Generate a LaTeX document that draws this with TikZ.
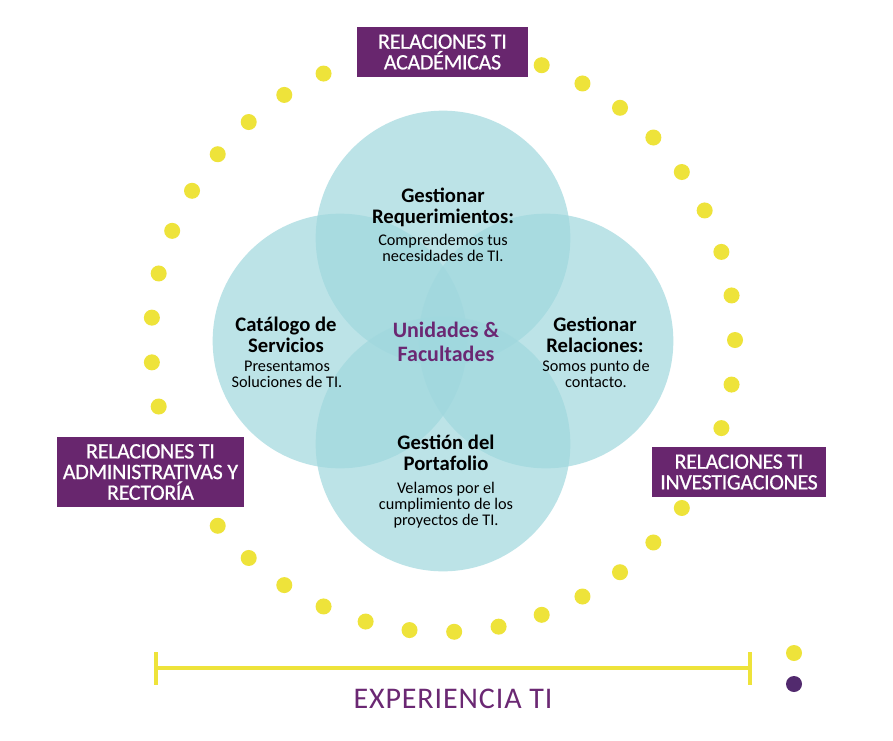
\documentclass[tikz,border=0pt]{standalone}
\usepackage{fontspec}
\setmainfont{Carlito}
\newfontfamily\tagfont[FakeBold=0.6,LetterSpace=-1.5]{Carlito}
\newfontfamily\expfont[LetterSpace=3]{Carlito}
\definecolor{petalc}{RGB}{160,216,222}
\definecolor{dotyellow}{RGB}{238,227,58}
\definecolor{boxpurple}{RGB}{104,38,110}
\definecolor{textpurple}{RGB}{107,40,115}
\definecolor{dotpurple}{RGB}{82,42,110}
\begin{document}
\begin{tikzpicture}[x=0.75pt,y=-0.75pt,
  petal/.style={fill=petalc,fill opacity=0.7},
  headtxt/.style={align=center,inner sep=0pt,font=\bfseries\fontsize{15.5}{15.75}\selectfont},
  bodytxt/.style={align=center,inner sep=0pt,font=\fontsize{12.2}{12.2}\selectfont},
  coretxt/.style={inner sep=0pt,text=textpurple,font=\bfseries\fontsize{16.5}{17}\selectfont},
  tag/.style={fill=boxpurple,text=white,align=center,inner sep=0pt,
    font=\tagfont\fontsize{16.5}{15.5}\selectfont},
  yellowdot/.style={fill=dotyellow},
  ruler/.style={draw=dotyellow,line width=2.4pt}]
\useasboundingbox (0,0) rectangle (893,740);
\fill[white] (0,0) rectangle (893,740);

% ring of dots
\foreach \k in {0,1,2,4,5,...,16,19,20,...,28,33,34,...,40}
  \fill[yellowdot] ({443+292*cos(\k*360/41)},{340+292*sin(\k*360/41)}) circle[radius=6pt];

% four overlapping petals
\fill[petal] (443,238) circle[radius=95.5pt];
\fill[petal] (340,341) circle[radius=95.5pt];
\fill[petal] (546,341) circle[radius=95.5pt];
\fill[petal] (443,444) circle[radius=95.5pt];

% petal texts
\node[headtxt] (reqH) at (443,207) {Gestionar\\Requerimientos:};
\node[bodytxt] (reqB) at (443,248) {Comprendemos tus\\necesidades de TI.};
\node[headtxt] (catH) at (286,335) {Catálogo de\\Servicios};
\node[bodytxt] (catB) at (287,374) {Presentamos\\Soluciones de TI.};
\node[headtxt] (relH) at (595,335) {Gestionar\\Relaciones:};
\node[bodytxt] (relB) at (596,374) {Somos punto de\\contacto.};
\node[headtxt] (porH) at (446,453) {Gestión del\\Portafolio};
\node[bodytxt] (porB) at (446,505) {Velamos por el\\cumplimiento de los\\proyectos de TI.};
\node[coretxt] (core1) at (446,330) {Unidades \&};
\node[coretxt] (core2) at (446,354) {Facultades};

% relation tags
\node[tag,minimum width=128.25pt,minimum height=37.5pt] (acad) at (442.5,52) {RELACIONES TI\\ACADÉMICAS};
\node[tag,minimum width=140.25pt,minimum height=52.5pt] (admin) at (150.5,472) {RELACIONES TI\\ADMINISTRATIVAS Y\\RECTORÍA};
\node[tag,minimum width=130.5pt,minimum height=37.5pt] (inv) at (739,472) {RELACIONES TI\\INVESTIGACIONES};

% experience ruler
\coordinate (rl) at (156,668);
\coordinate (rr) at (750,668);
\draw[ruler] (rl) -- (rr);
\draw[ruler] ([yshift=12pt]rl) -- ([yshift=-12.5pt]rl);
\draw[ruler] ([yshift=12pt]rr) -- ([yshift=-12.5pt]rr);
\node[inner sep=0pt,text=textpurple,font=\expfont\fontsize{22.5}{22}\selectfont] (exp) at (453,699)
  {EXPERIENCIA TI};

% legend dots
\fill[yellowdot] (794,653) circle[radius=6pt];
\fill[dotpurple] (794,684) circle[radius=6pt];
\end{tikzpicture}
\end{document}
